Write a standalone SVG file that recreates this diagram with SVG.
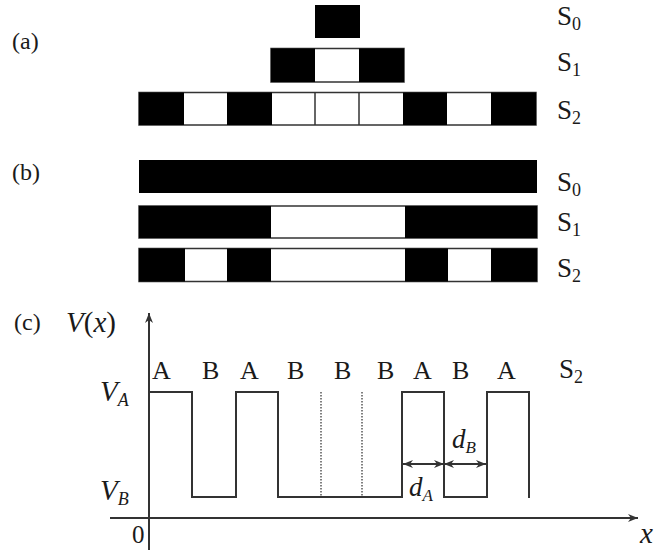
<svg xmlns="http://www.w3.org/2000/svg" width="657" height="550" viewBox="0 0 657 550" font-family="'Liberation Serif', 'Times New Roman', serif">
  <style>
    text { font-family: 'Liberation Serif', 'Times New Roman', serif; fill: #1a1a1a; }
    .it { font-style: italic; }
    .blk { fill: #000; }
    .row { fill: #fff; stroke: #333; stroke-width: 1.5; }
    .div { stroke: #333; stroke-width: 1.5; }
    .wave { fill: none; stroke: #333; stroke-width: 2; }
    .axis { fill: none; stroke: #333; stroke-width: 2; }
    .dot { stroke: #555; stroke-width: 1.5; stroke-dasharray: 1.5 1.5; }
    .dim { stroke: #333; stroke-width: 1.8; }
  </style>
  <defs>
    <marker id="ah" markerUnits="userSpaceOnUse" markerWidth="12" markerHeight="10" refX="11" refY="5" orient="auto-start-reverse">
      <path d="M1,1 L11,5 L1,9 L4,5 z" fill="#333"/>
    </marker>
  </defs>
  <rect width="657" height="550" fill="#fff"/>

  <!-- panel (a): self-similar build-up S0 -> S1 -> S2 -->
  <g id="panel-a">
    <text x="12" y="49" font-size="24">(a)</text>
    <g id="a-S0">
      <rect class="blk" x="315" y="5" width="45" height="33"/>
    </g>
    <g id="a-S1">
      <rect class="row" x="271" y="48.5" width="133" height="33.5"/>
      <rect class="blk" x="271" y="48.5" width="44" height="33.5"/>
      <rect class="blk" x="359" y="48.5" width="45" height="33.5"/>
    </g>
    <g id="a-S2">
      <rect class="row" x="139" y="92.5" width="397" height="32.5"/>
      <rect class="blk" x="139" y="92.5" width="45" height="32.5"/>
      <rect class="blk" x="227" y="92.5" width="45" height="32.5"/>
      <rect class="blk" x="403" y="92.5" width="44" height="32.5"/>
      <rect class="blk" x="491" y="92.5" width="45" height="32.5"/>
      <line class="div" x1="315" y1="92.5" x2="315" y2="125"/>
      <line class="div" x1="359" y1="92.5" x2="359" y2="125"/>
    </g>
    <text x="557" y="25" font-size="27">S<tspan font-size="18" dy="5">0</tspan></text>
    <text x="557" y="71" font-size="27">S<tspan font-size="18" dy="5">1</tspan></text>
    <text x="557" y="119" font-size="27">S<tspan font-size="18" dy="5">2</tspan></text>
  </g>

  <!-- panel (b): full-width rows -->
  <g id="panel-b">
    <text x="12" y="180" font-size="24">(b)</text>
    <g id="b-S0">
      <rect class="blk" x="139" y="160" width="398" height="33"/>
    </g>
    <g id="b-S1">
      <rect class="row" x="139" y="206" width="398" height="32"/>
      <rect class="blk" x="139" y="206" width="132" height="32"/>
      <rect class="blk" x="405" y="206" width="132" height="32"/>
    </g>
    <g id="b-S2">
      <rect class="row" x="139" y="248.5" width="398" height="33"/>
      <rect class="blk" x="139" y="248.5" width="46" height="33"/>
      <rect class="blk" x="227" y="248.5" width="44" height="33"/>
      <rect class="blk" x="405" y="248.5" width="43" height="33"/>
      <rect class="blk" x="491" y="248.5" width="46" height="33"/>
    </g>
    <text x="557" y="191" font-size="27">S<tspan font-size="18" dy="5">0</tspan></text>
    <text x="557" y="231" font-size="27">S<tspan font-size="18" dy="5">1</tspan></text>
    <text x="557" y="277" font-size="27">S<tspan font-size="18" dy="5">2</tspan></text>
  </g>

  <!-- panel (c): potential profile V(x) for S2 -->
  <g id="panel-c">
    <text x="14" y="330" font-size="24">(c)</text>
    <text x="66" y="332" font-size="29"><tspan class="it">V</tspan>(<tspan class="it">x</tspan>)</text>
    <text class="it" x="100" y="401" font-size="29">V<tspan font-size="18" dy="5">A</tspan></text>
    <text class="it" x="100" y="500" font-size="29">V<tspan font-size="18" dy="5">B</tspan></text>
    <text x="132" y="543" font-size="25">0</text>
    <text class="it" x="640" y="543" font-size="29">x</text>

    <g id="layer-labels" font-size="26">
      <text x="152" y="379">A</text>
      <text x="202" y="379">B</text>
      <text x="240" y="379">A</text>
      <text x="287" y="379">B</text>
      <text x="334" y="379">B</text>
      <text x="377" y="379">B</text>
      <text x="413" y="379">A</text>
      <text x="452" y="379">B</text>
      <text x="497" y="379">A</text>
    </g>
    <text x="559" y="378" font-size="27">S<tspan font-size="18" dy="5">2</tspan></text>

    <text class="it" x="452" y="448" font-size="27">d<tspan font-size="17" dy="5">B</tspan></text>
    <text class="it" x="409" y="496" font-size="27">d<tspan font-size="17" dy="5">A</tspan></text>
  </g>

  <!-- axes, step profile and width markers -->
  <g id="connectors">
    <line class="axis" x1="149" y1="550" x2="149" y2="313" marker-end="url(#ah)"/>
    <line class="axis" x1="110" y1="518" x2="638" y2="518" marker-end="url(#ah)"/>
    <path class="wave" d="M149,392 H192 V497 H236 V392 H278 V497 H402 V392 H444 V497 H487 V392 H529 V498"/>
    <line class="dot" x1="321" y1="392" x2="321" y2="496"/>
    <line class="dot" x1="362" y1="392" x2="362" y2="496"/>
    <line class="dim" x1="403" y1="464" x2="444" y2="464" marker-start="url(#ah)" marker-end="url(#ah)"/>
    <line class="dim" x1="444" y1="464" x2="486" y2="464" marker-start="url(#ah)" marker-end="url(#ah)"/>
  </g>
</svg>
